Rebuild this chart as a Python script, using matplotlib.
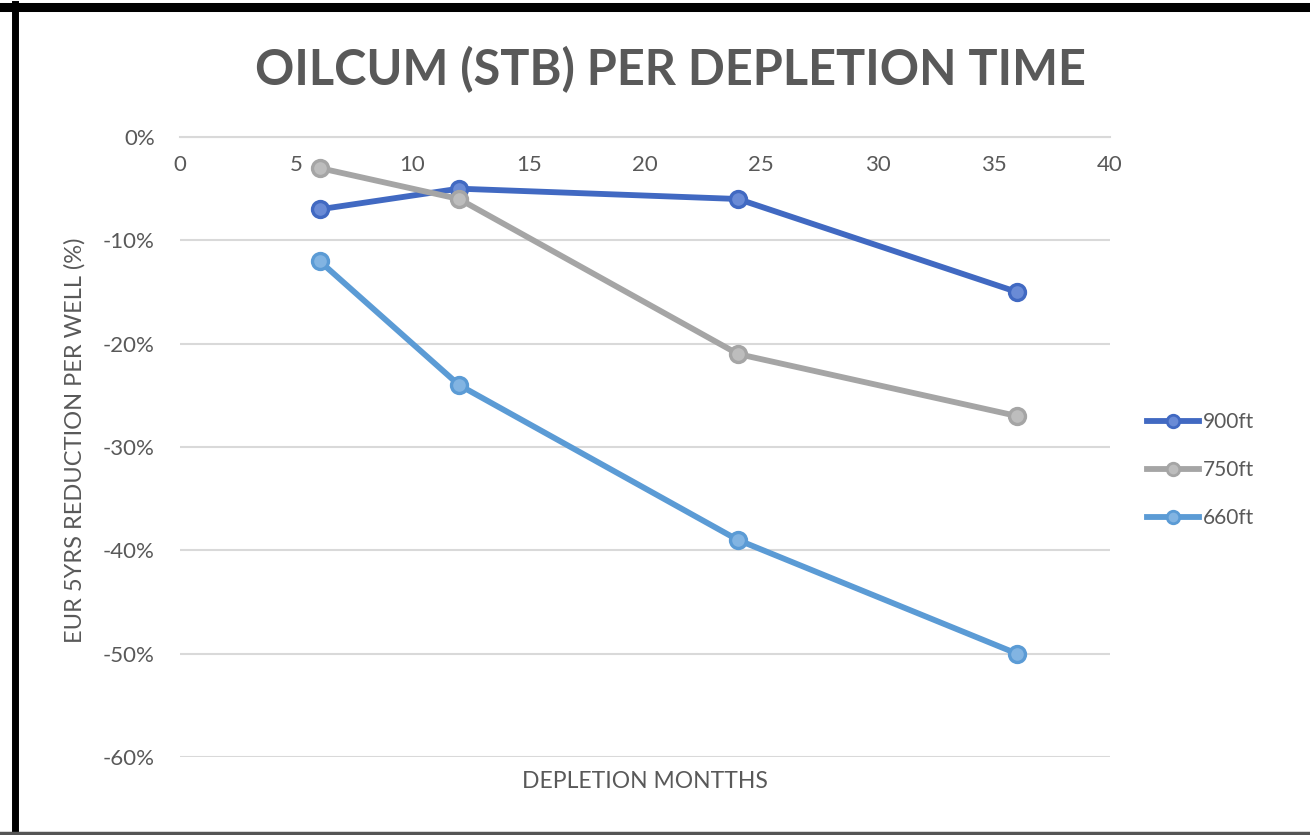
import matplotlib.pyplot as plt
from matplotlib.lines import Line2D
from matplotlib.ticker import FuncFormatter

months = [6, 12, 24, 36]
series_names = ['900ft', '750ft', '660ft']
reduction_900 = [-7, -5, -6, -15]
reduction_750 = [-3, -6, -21, -27]
reduction_660 = [-12, -24, -39, -50]
colors = ['#4169C2', '#A5A5A5', '#5B9BD5']
face_colors = ['#6A8BD6', '#BDBDBD', '#82B4E2']

plt.rcParams['font.family'] = ['Lato', 'DejaVu Sans']
text_gray = '#595959'

fig = plt.figure(figsize=(13.1, 8.35), dpi=100)
ax = fig.add_axes([180 / 1310, 1 - 757 / 835, 930 / 1310, 620 / 835])

for vals, name, c, fc in zip([reduction_900, reduction_750, reduction_660], series_names, colors, face_colors):
    ax.plot(months, vals, color=c, lw=4.2, marker='o', markersize=11.5,
            markerfacecolor=fc, markeredgecolor=c, markeredgewidth=2.4,
            label=name, solid_capstyle='round', zorder=3)

ax.set_xlim(0, 40)
ax.set_ylim(-60, 0)
ax.set_xticks(range(0, 41, 5))
ax.set_yticks(range(-60, 1, 10))
ax.yaxis.set_major_formatter(FuncFormatter(lambda v, p: f'{int(v)}%'))
ax.grid(axis='y', color='#D9D9D9', lw=1.5)
ax.set_axisbelow(True)

for s in ['left', 'right', 'top']:
    ax.spines[s].set_visible(False)
ax.spines['bottom'].set_position(('data', 0))
ax.spines['bottom'].set_color('#D9D9D9')
ax.spines['bottom'].set_linewidth(1.5)
ax.tick_params(axis='x', length=0, pad=13, labelsize=16, labelcolor=text_gray)
ax.tick_params(axis='y', length=0, pad=18, labelsize=16, labelcolor=text_gray)

fig.text(75 / 1310, 1 - 440 / 835, 'EUR 5YRS REDUCTION PER WELL (%)', fontsize=17,
         color=text_gray, rotation=90, ha='center', va='center')
fig.text(645 / 1310, 1 - 782 / 835, 'DEPLETION MONTTHS', fontsize=16.5, color=text_gray,
         ha='center', va='center')
fig.text(670 / 1310, 1 - 70 / 835, 'OILCUM (STB) PER DEPLETION TIME', fontsize=35,
         fontweight='bold', color=text_gray, ha='center', va='center')

handles = [Line2D([0], [0], color=c, lw=4.2, marker='o', markersize=9,
                  markerfacecolor=fc, markeredgecolor=c, markeredgewidth=2)
           for c, fc in zip(colors, face_colors)]
fig.legend(handles, series_names, loc='center left', bbox_to_anchor=(1128 / 1310, 1 - 470 / 835),
           frameon=False, fontsize=15, labelcolor=text_gray, handlelength=2.5,
           handletextpad=0.2, labelspacing=1.35)

# black frame around the chart (top and left thick, bottom thin)
fig.add_artist(Line2D([0, 1], [1 - 7 / 835, 1 - 7 / 835], transform=fig.transFigure,
                      color='black', lw=6.5))
fig.add_artist(Line2D([15 / 1310, 15 / 1310], [0, 1 - 4 / 835], transform=fig.transFigure,
                      color='black', lw=5))
fig.add_artist(Line2D([0, 1], [2 / 835, 2 / 835], transform=fig.transFigure,
                      color='#555555', lw=2.5))

fig.savefig('out.png', dpi=100, facecolor='white')
